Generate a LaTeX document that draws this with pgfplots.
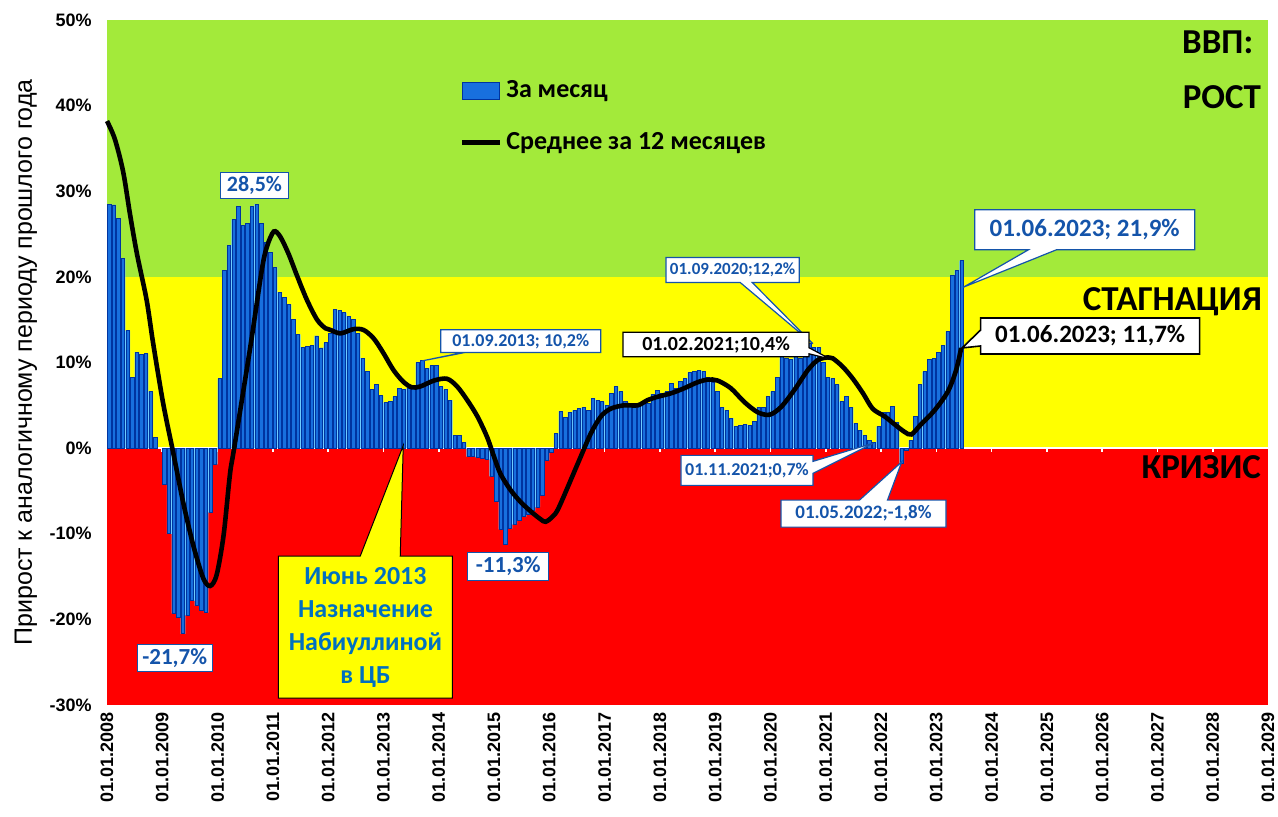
\documentclass[border=0pt]{standalone}
\usepackage{pgfplots}
\pgfplotsset{compat=1.18}
\usepackage{pgfplotstable}
\usepackage{fontspec}
\setmainfont{Liberation Sans}
\newfontfamily\carlito{Carlito}
\usetikzlibrary{shapes.callouts}

\definecolor{bggreen}{RGB}{163,234,58}
\definecolor{bgyellow}{RGB}{255,255,0}
\definecolor{bgred}{RGB}{255,0,0}
\definecolor{barfill}{RGB}{24,112,222}
\definecolor{baredge}{RGB}{0,52,160}
\definecolor{barlight}{RGB}{110,205,255}
\definecolor{lblblue}{RGB}{20,84,170}
\definecolor{nabblue}{RGB}{0,112,192}

% monthly growth, m = months since Jan 2008
\pgfplotstableread{
m v
0 28.5
1 28.4
2 26.8
3 22.1
4 13.7
5 8.3
6 11.2
7 10.9
8 11.0
9 6.6
10 1.3
12 -4.2
13 -10.0
14 -19.3
15 -19.8
16 -21.7
17 -19.5
18 -17.8
19 -18.4
20 -18.9
21 -19.2
22 -7.5
23 -1.9
24 8.1
25 20.7
26 23.7
27 26.7
28 28.2
29 26.0
30 26.2
31 28.2
32 28.5
33 26.2
34 24.0
35 22.9
36 21.1
37 18.2
38 17.6
39 16.8
40 15.0
41 13.3
42 11.8
43 11.9
44 12.0
45 13.1
46 11.7
47 12.3
48 13.4
49 16.2
50 16.1
51 15.8
52 15.4
53 15.0
54 13.4
55 10.5
56 8.9
57 6.8
58 7.4
59 6.1
60 5.3
61 5.5
62 6.0
63 7.0
64 6.8
65 7.0
66 7.0
67 10.0
68 10.2
69 9.3
70 9.6
71 9.7
72 7.2
73 6.8
74 5.6
75 1.5
76 1.5
77 0.7
78 -1.0
79 -1.0
80 -1.1
81 -1.2
82 -1.3
83 -3.3
84 -6.2
85 -9.5
86 -11.3
87 -9.4
88 -8.9
89 -8.4
90 -8.0
91 -7.8
92 -7.3
93 -6.9
94 -5.5
95 -1.4
96 -0.5
97 1.7
98 4.3
99 3.6
100 4.2
101 4.4
102 4.6
103 4.8
104 4.4
105 5.8
106 5.6
107 5.4
108 5.0
109 6.4
110 7.2
111 6.6
112 5.4
113 5.0
114 5.1
115 5.2
116 5.3
117 5.2
118 6.3
119 6.7
120 6.4
121 6.6
122 7.5
123 7.0
124 7.8
125 8.1
126 8.8
127 9.0
128 9.1
129 9.0
130 8.3
131 7.7
132 6.6
133 4.8
134 4.4
135 3.5
136 2.5
137 2.7
138 2.8
139 2.7
140 3.1
141 4.8
142 4.7
143 6.0
144 6.6
145 8.3
146 10.7
147 10.5
148 10.3
149 10.7
150 10.5
151 11.8
152 12.2
153 11.8
154 11.8
155 10.0
156 8.3
157 8.1
158 7.4
159 5.4
160 6.0
161 4.8
162 2.9
163 2.1
164 1.5
165 0.9
166 0.7
167 2.5
168 4.2
169 4.2
170 4.9
171 3.0
172 -1.8
173 -0.3
174 0.9
175 3.7
176 7.4
177 8.9
178 10.4
179 10.5
180 11.2
181 12.0
182 13.6
183 20.2
184 20.8
185 21.9
}\monthly

% 12-month average
\pgfplotstableread{
m v
0 38.2
1.7 36.1
3.5 32.3
5 27.3
6.5 22.7
8.6 17.3
10 12.3
12.2 5.2
14.4 -0.6
16.6 -6.5
18.8 -11.5
20.9 -15.2
22.4 -16.1
23.8 -14.8
25.3 -10.2
26.7 -3.0
27.6 0.0
31.1 11.8
33.6 20.8
34.7 23.5
36.2 25.3
37.6 24.7
39.4 22.7
41.2 20.2
43.4 17.3
45.6 15.0
47.4 14.0
48.5 13.8
50.7 13.4
53.5 13.9
55.7 13.8
57.9 12.8
60 11.1
62.2 9.1
64.4 7.7
66.2 7.1
68 7.2
71 7.9
73.8 8.1
76 7.2
78.2 5.6
80.4 3.7
82.5 1.3
84 -1.0
85.4 -3.0
87.6 -4.9
89.8 -6.3
92 -7.4
94.1 -8.3
95.2 -8.6
96.7 -8.0
98.1 -6.9
102.5 -1.4
105 1.7
107.2 3.7
109.3 4.6
112.2 5.0
115.2 5.0
117.3 5.6
119.5 6.0
122.4 6.4
125.3 7.0
128.2 7.7
130.4 8.0
132.5 7.9
135.4 7.0
138.3 5.4
141.2 4.2
143.8 3.9
146.3 4.8
149.2 6.8
152.1 9.1
154.3 10.3
156.5 10.6
157.5 10.5
159.7 9.5
161.9 8.1
164.1 6.4
166.2 4.6
168.8 3.7
170.9 2.8
173.1 1.9
174.6 1.6
176.7 2.8
179.6 4.4
182.5 6.6
184.3 9.1
185.4 11.7
}\avgline

\tikzset{cal/.style={rectangle callout, fill=white, draw=lblblue, line width=0.6pt, text=lblblue, inner sep=2pt, align=center}}

\begin{document}
\begin{tikzpicture}
\useasboundingbox (-53.5pt,-55.5pt) rectangle (585.5pt,352.5pt);
\begin{axis}[
  at={(0,0)}, anchor=south west,
  scale only axis, width=580.5pt, height=342.5pt,
  xmin=0, xmax=252, ymin=-30, ymax=50,
  xtick={0,12,...,252},
  xticklabels={01.01.2008,01.01.2009,01.01.2010,01.01.2011,01.01.2012,01.01.2013,01.01.2014,01.01.2015,01.01.2016,01.01.2017,01.01.2018,01.01.2019,01.01.2020,01.01.2021,01.01.2022,01.01.2023,01.01.2024,01.01.2025,01.01.2026,01.01.2027,01.01.2028,01.01.2029},
  ytick={-30,-20,...,50},
  yticklabels={-30\%,-20\%,-10\%,0\%,10\%,20\%,30\%,40\%,50\%},
  axis line style={draw=none},
  major tick length=0pt,
  tick label style={font=\fontsize{9}{10}\selectfont\bfseries},
  xticklabel style={rotate=90, anchor=east, inner sep=3.5pt},
  yticklabel style={anchor=east, inner sep=7.5pt},
  ylabel={Прирост к аналогичному периоду прошлого года},
  every axis y label/.style={at={(axis description cs:-0.0698,0.5)}, rotate=90, anchor=center, font=\fontsize{12.5}{14}\selectfont},
  clip=false,
  legend cell align=left,
  legend style={at={(rel axis cs:0.3036,0.918)}, anchor=north west, draw=none, fill=none, inner sep=0pt, row sep=12pt,
    font=\carlito\bfseries\fontsize{13}{15}\selectfont},
]
% background bands
\addplot[fill=bggreen, draw=none, forget plot] coordinates {(0,20) (252,20) (252,50) (0,50)} -- cycle;
\addplot[fill=bgyellow, draw=none, forget plot] coordinates {(0,0) (252,0) (252,20) (0,20)} -- cycle;
\addplot[fill=bgred, draw=none, forget plot] coordinates {(0,-30) (252,-30) (252,0) (0,0)} -- cycle;
% zero line and year ticks
\addplot[white, line width=1pt, forget plot] coordinates {(0,0) (252,0)};
\addplot[white, line width=0.8pt, forget plot, unbounded coords=jump] coordinates {
(12,0) (12,-0.45) (12,nan) (24,0) (24,-0.45) (24,nan) (36,0) (36,-0.45) (36,nan) (48,0) (48,-0.45) (48,nan)
(60,0) (60,-0.45) (60,nan) (72,0) (72,-0.45) (72,nan) (84,0) (84,-0.45) (84,nan) (96,0) (96,-0.45) (96,nan)
(108,0) (108,-0.45) (108,nan) (120,0) (120,-0.45) (120,nan) (132,0) (132,-0.45) (132,nan) (144,0) (144,-0.45) (144,nan)
(156,0) (156,-0.45) (156,nan) (168,0) (168,-0.45) (168,nan) (180,0) (180,-0.45) (180,nan) (192,0) (192,-0.45) (192,nan)
(204,0) (204,-0.45) (204,nan) (216,0) (216,-0.45) (216,nan) (228,0) (228,-0.45) (228,nan) (240,0) (240,-0.45) (240,nan)};
% bars: light underlay then main bars
\addplot[ybar, bar width=1, fill=barlight, draw=none, forget plot] table[x expr=\thisrow{m}+0.5, y=v] {\monthly};
\addplot[ybar, bar width=0.72, fill=barfill, draw=baredge, line width=0.45pt,
  legend image code/.code={\fill[barfill, draw=baredge, line width=0.6pt] (0pt,-4.25pt) rectangle (18.5pt,4.25pt);}]
  table[x expr=\thisrow{m}+0.5, y=v] {\monthly};
\addlegendentry{За месяц}
\addplot[black, line width=2.3pt, smooth,
  legend image code/.code={\draw[black, line width=2.3pt] (0pt,0pt) -- (19pt,0pt);}]
  table[x=m, y=v] {\avgline};
\addlegendentry{Среднее за 12 месяцев}

% zone labels
\node[anchor=base east, font=\carlito\bfseries\fontsize{17.5}{20}\selectfont] at (axis cs:250.3,46.1) {ВВП:};
\node[anchor=base east, font=\carlito\bfseries\fontsize{17.5}{20}\selectfont] at (axis cs:252,39.7) {РОСТ};
\node[anchor=base east, font=\carlito\bfseries\fontsize{17.5}{20}\selectfont] at (axis cs:252.2,16.1) {СТАГНАЦИЯ};
\node[anchor=base east, font=\carlito\bfseries\fontsize{17.5}{20}\selectfont] at (axis cs:252,-3.5) {КРИЗИС};

% plain value labels
\node[fill=white, draw=lblblue, line width=0.6pt, text=lblblue, inner sep=2pt, minimum width=34pt, minimum height=12.5pt,
  font=\carlito\bfseries\fontsize{11}{12}\selectfont] at (axis cs:32.0,30.7) {28,5\%};
\node[fill=white, draw=lblblue, line width=0.6pt, text=lblblue, inner sep=2pt, minimum width=37.5pt, minimum height=13pt,
  font=\carlito\bfseries\fontsize{11.5}{12}\selectfont] at (axis cs:14.7,-24.5) {-21,7\%};
\node[fill=white, draw=lblblue, line width=0.6pt, text=lblblue, inner sep=2pt, minimum width=40.5pt, minimum height=14pt,
  font=\carlito\bfseries\fontsize{11.5}{12}\selectfont] at (axis cs:87.1,-13.8) {-11,3\%};

% callouts
\node[cal, minimum width=80pt, minimum height=11pt, font=\carlito\bfseries\fontsize{9}{10}\selectfont,
  callout absolute pointer={(axis cs:68.5,10.2)}, callout pointer width=1pt] at (axis cs:89.8,12.5) {01.09.2013; 10,2\%};
\node[cal, minimum width=66.5pt, minimum height=12.5pt, font=\carlito\bfseries\fontsize{8.5}{10}\selectfont,
  callout absolute pointer={(axis cs:153.2,12.2)}, callout pointer width=6pt] at (axis cs:135.8,20.8) {01.09.2020;12,2\%};
\node[cal, draw=black, text=black, minimum width=93pt, minimum height=11.5pt, font=\carlito\bfseries\fontsize{10}{11}\selectfont,
  callout absolute pointer={(axis cs:157,10.4)}, callout pointer width=3pt] at (axis cs:132.2,12.1) {01.02.2021;10,4\%};
\node[cal, minimum width=66pt, minimum height=15pt, font=\carlito\bfseries\fontsize{9}{10}\selectfont,
  callout absolute pointer={(axis cs:166.4,0.6)}, callout pointer width=6pt] at (axis cs:138.9,-2.6) {01.11.2021;0,7\%};
\node[cal, minimum width=82.5pt, minimum height=13.5pt, font=\carlito\bfseries\fontsize{9.5}{10}\selectfont,
  callout absolute pointer={(axis cs:172.5,-1.6)}, callout pointer width=14pt] at (axis cs:164.2,-7.65) {01.05.2022;-1,8\%};
\node[cal, minimum width=110pt, minimum height=20pt, font=\carlito\bfseries\fontsize{12.5}{14}\selectfont,
  callout absolute pointer={(axis cs:185.9,18.8)}, callout pointer width=14pt] at (axis cs:212.2,25.5) {01.06.2023; 21,9\%};
\node[cal, draw=black, text=black, line width=0.8pt, minimum width=109.5pt, minimum height=18pt, font=\carlito\bfseries\fontsize{12.5}{14}\selectfont,
  callout absolute pointer={(axis cs:185.6,11.7)}, callout pointer width=8pt] at (axis cs:213.4,13.1) {01.06.2023; 11,7\%};
\node[rectangle callout, fill=bgyellow, draw=black, line width=0.5pt, text=nabblue, align=center,
  minimum width=87pt, minimum height=71pt, inner sep=2pt,
  font=\carlito\bfseries\fontsize{13}{16.5}\selectfont,
  callout absolute pointer={(axis cs:64.3,0.3)}, callout pointer width=20pt] at (axis cs:56.1,-20.9)
  {Июнь 2013\\Назначение\\Набиуллиной\\в ЦБ};
\end{axis}
\end{tikzpicture}
\end{document}
